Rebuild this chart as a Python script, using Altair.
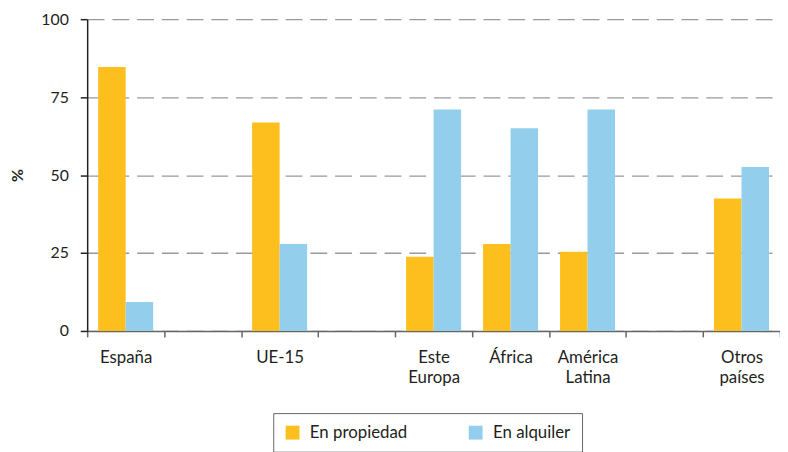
import altair as alt
import pandas as pd

# ---- data ----
categories = ["España", "_1", "UE-15", "_2", "Este|Europa", "África",
              "América|Latina", "_3", "Otros|países"]
series = ["En propiedad", "En alquiler"]
propiedad = [84.7, None, 66.9, None, 23.8, 27.9, 25.4, None, 42.5]
alquiler = [9.3, None, 27.9, None, 71.0, 65.0, 71.0, None, 52.6]
y_ticks = [0, 25, 50, 75, 100]

colors = ["#FCBF1D", "#93CFEC"]

rows = []
for cat, p, a in zip(categories, propiedad, alquiler):
    if p is not None:
        rows.append({"cat": cat, "serie": series[0], "valor": p})
    if a is not None:
        rows.append({"cat": cat, "serie": series[1], "valor": a})
df = pd.DataFrame(rows)

W, H = 700, 315
FONT = "Lato"
TXT = "#231f20"

chart = alt.Chart(df).mark_bar().encode(
    x=alt.X(
        "cat:N",
        sort=categories,
        scale=alt.Scale(domain=categories, paddingInner=0, paddingOuter=0),
        axis=alt.Axis(
            title=None,
            tickBand="extent",
            labelExpr="indexof(datum.label, '_') == 0 ? '' : split(datum.label, '|')",
            labelAlign="center",
            labelBaseline="top",
            labelPadding=13,
            labelFontSize=17,
            labelLineHeight=20,
            labelFont=FONT,
            labelColor=TXT,
            labelAngle=0,
            tickSize=6,
            tickColor="#666666",
            tickWidth=1.5,
            domainColor="#666666",
            domainWidth=1.5,
            grid=False,
        ),
    ),
    xOffset=alt.XOffset(
        "serie:N",
        sort=series,
        scale=alt.Scale(domain=series, paddingInner=0, paddingOuter=0.4),
    ),
    y=alt.Y(
        "valor:Q",
        scale=alt.Scale(domain=[0, 100], nice=False),
        axis=alt.Axis(
            values=y_ticks,
            title="%",
            titleFont=FONT,
            titleFontSize=16,
            titleFontWeight="bold",
            titleColor=TXT,
            titleAngle=-90,
            titleX=-70,
            titleY=H / 2,
            titleAlign="center",
            titleBaseline="middle",
            labelFont=FONT,
            labelFontSize=16,
            labelColor=TXT,
            labelPadding=12,
            tickSize=7,
            tickColor="#222222",
            tickWidth=1.5,
            domainColor="#222222",
            domainWidth=1.5,
            grid=True,
            gridColor="#999999",
            gridDash=[17, 8],
            gridWidth=1.3,
        ),
    ),
    color=alt.Color(
        "serie:N",
        sort=series,
        scale=alt.Scale(domain=series, range=colors),
        legend=alt.Legend(
            title=None,
            orient="none",
            legendX=188,
            legendY=398,
            direction="horizontal",
            columns=2,
            gridAlign="all",
            columnPadding=60,
            padding=11,
            strokeColor="#666666",
            symbolType="square",
            symbolSize=196,
            symbolStrokeWidth=0,
            symbolOpacity=1,
            labelFont=FONT,
            labelFontSize=17,
            labelColor=TXT,
            labelOffset=9,
        ),
    ),
).properties(
    width=W,
    height=H,
    autosize=alt.AutoSizeParams(type="none"),
    padding={"left": 80, "top": 9, "right": 0, "bottom": 120},
).configure_view(stroke=None)

chart.save("out.html", embed_options={"renderer": "svg", "actions": False})
